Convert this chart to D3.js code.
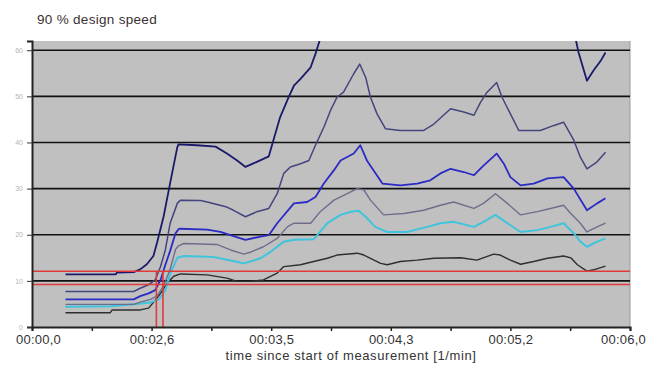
<!DOCTYPE html>
<html>
<head>
<meta charset="utf-8">
<script src="https://cdn.jsdelivr.net/npm/d3@7"></script>
<style>
  body { margin: 0; background: #fff; }
  text { font-family: "Liberation Sans", Arial, sans-serif; }
</style>
</head>
<body>
<script>
// tick positions (0..10) and their labels
var xTicks = [0, 1, 2, 3, 4, 5, 6, 7, 8, 9, 10];
var xTickLabels = ["00:00,0", "", "00:02,6", "", "00:03,5", "", "00:04,3", "", "00:05,2", "", "00:06,0"];
var yTicks = [0, 10, 20, 30, 40, 50, 60];

// series, [x, value]
var navy = [[0.56,11.4],[1.40,11.4],[1.42,11.8],[1.70,11.9],[1.81,12.5],[1.92,13.6],[2.03,15.4],[2.09,18.2],[2.20,23.9],[2.31,31.2],[2.43,39.0],[2.45,39.6],[2.76,39.4],[3.07,39.1],[3.26,37.6],[3.43,36.1],[3.57,34.7],[3.76,35.8],[3.96,37.0],[4.02,39.7],[4.15,45.5],[4.29,49.8],[4.38,52.3],[4.49,53.8],[4.66,56.3],[4.74,59.2],[4.82,62.5],[4.90,66],[9.05,66],[9.09,62.5],[9.14,59.5],[9.28,53.4],[9.39,55.6],[9.51,57.7],[9.59,59.5]];
var slate = [[0.56,7.7],[1.70,7.7],[1.81,8.4],[1.94,9.1],[2.06,10.2],[2.15,13.1],[2.23,16.7],[2.31,22.5],[2.43,26.8],[2.48,27.5],[2.82,27.4],[2.93,27.1],[3.26,26.0],[3.37,25.3],[3.57,23.9],[3.76,25.0],[3.96,25.7],[4.10,28.9],[4.21,33.3],[4.32,34.7],[4.49,35.4],[4.63,36.1],[4.74,39.4],[4.88,43.3],[4.99,46.9],[5.10,49.8],[5.21,50.9],[5.38,54.9],[5.48,57.0],[5.58,54.1],[5.66,49.8],[5.77,46.2],[5.91,43.0],[6.16,42.6],[6.55,42.6],[6.72,44.0],[7.00,47.3],[7.22,46.6],[7.39,45.9],[7.50,48.7],[7.61,50.9],[7.77,53.0],[7.86,49.8],[8.00,46.2],[8.14,42.6],[8.50,42.6],[8.73,43.7],[8.89,44.4],[9.06,40.5],[9.17,36.8],[9.28,34.3],[9.45,35.8],[9.59,37.9]];
var blue = [[0.56,6.0],[1.70,6.0],[1.81,6.7],[1.95,7.3],[2.06,8.0],[2.15,10.2],[2.23,13.5],[2.31,16.5],[2.40,20.3],[2.45,21.2],[2.48,21.3],[2.93,21.1],[3.15,20.6],[3.37,19.7],[3.57,18.9],[3.82,19.6],[3.96,19.9],[4.10,22.5],[4.38,26.8],[4.60,27.1],[4.74,28.2],[4.88,31.1],[5.05,34.0],[5.16,36.1],[5.38,37.6],[5.49,39.4],[5.60,36.1],[5.71,34.0],[5.86,31.1],[6.16,30.7],[6.44,31.1],[6.66,31.8],[6.83,33.3],[7.00,34.3],[7.22,33.6],[7.39,32.9],[7.55,35.0],[7.77,37.6],[7.89,35.4],[8.00,32.5],[8.17,30.7],[8.39,31.1],[8.62,32.2],[8.89,32.5],[9.06,30.0],[9.28,25.3],[9.45,26.8],[9.59,27.9]];
var grayp = [[0.56,4.9],[1.70,4.9],[1.81,5.4],[1.98,6.0],[2.09,6.7],[2.20,8.9],[2.31,12.5],[2.40,16.8],[2.45,17.6],[2.54,18.1],[3.09,17.9],[3.32,16.7],[3.54,15.8],[3.65,16.2],[3.87,17.4],[4.10,19.2],[4.27,21.7],[4.38,22.5],[4.66,22.5],[4.82,25.0],[5.05,27.5],[5.27,28.9],[5.44,30.0],[5.55,29.7],[5.66,27.5],[5.88,24.3],[6.22,24.6],[6.55,25.3],[6.83,26.4],[7.05,27.1],[7.39,25.7],[7.55,26.8],[7.75,28.9],[7.95,26.8],[8.17,24.3],[8.45,25.0],[8.67,25.7],[8.89,26.4],[9.01,24.6],[9.17,22.5],[9.28,20.6],[9.45,21.7],[9.59,22.5]];
var cyan = [[0.56,4.4],[1.31,4.5],[1.75,5.0],[1.98,5.3],[2.12,6.0],[2.23,8.0],[2.31,11.5],[2.43,15.0],[2.54,15.4],[3.03,15.2],[3.32,14.4],[3.54,13.8],[3.65,14.2],[3.82,14.9],[3.99,16.3],[4.21,18.5],[4.38,18.9],[4.71,19.0],[4.94,22.5],[5.16,24.3],[5.33,25.0],[5.46,25.2],[5.58,23.9],[5.74,21.7],[5.94,20.6],[6.27,20.6],[6.61,21.7],[6.83,22.5],[7.05,22.8],[7.39,21.7],[7.55,22.8],[7.75,24.3],[7.95,22.5],[8.17,20.6],[8.45,21.0],[8.67,21.7],[8.89,22.5],[9.06,20.3],[9.17,18.5],[9.28,17.4],[9.45,18.5],[9.59,19.2]];
var dark = [[0.56,3.1],[1.31,3.1],[1.34,3.7],[1.81,3.7],[1.95,4.1],[2.06,5.8],[2.15,7.3],[2.26,9.5],[2.37,11.0],[2.48,11.5],[2.93,11.3],[3.26,10.6],[3.43,9.9],[3.65,9.9],[3.87,10.2],[4.10,11.7],[4.21,13.1],[4.49,13.5],[4.71,14.2],[4.94,14.9],[5.10,15.6],[5.44,16.0],[5.55,15.6],[5.66,14.9],[5.83,13.8],[5.94,13.5],[6.16,14.2],[6.44,14.5],[6.72,14.9],[7.17,15.0],[7.44,14.5],[7.72,15.8],[7.83,15.6],[8.00,14.5],[8.17,13.6],[8.39,14.2],[8.62,14.9],[8.89,15.4],[9.01,15.0],[9.12,13.5],[9.28,12.1],[9.39,12.4],[9.59,13.2]];

// red limit lines
var redLevels = [12.1, 9.2];
var redTimes = [2.08, 2.19];

var svgWidth = 661, svgHeight = 365;
var margin = { top: 41, right: 31, bottom: 38, left: 32 };
var width = svgWidth - margin.left - margin.right;
var height = svgHeight - margin.top - margin.bottom;

var svg = d3.select("body").append("svg")
  .attr("width", svgWidth)
  .attr("height", svgHeight);

svg.append("text")
  .attr("x", 37)
  .attr("y", 24)
  .style("font-size", "13.5px")
  .style("letter-spacing", "0.3px")
  .style("fill", "#3a3030")
  .text("90 % design speed");

var chartGroup = svg.append("g").attr("transform", `translate(${margin.left}, ${margin.top})`);

var xScale = d3.scaleLinear().domain([0, 10]).range([0, width]);
var yScale = d3.scaleLinear().domain([0, 62]).range([height, 0]);

chartGroup.append("rect")
  .attr("width", width)
  .attr("height", height)
  .attr("fill", "#c0c0c0");

chartGroup.append("line")
  .attr("x1", width).attr("x2", width)
  .attr("y1", 0).attr("y2", height)
  .attr("stroke", "#9a9a9a");

chartGroup.append("defs").append("clipPath").attr("id", "clip")
  .append("rect").attr("width", width).attr("height", height);

// grid
chartGroup.selectAll(".grid")
  .data(yTicks.filter(d => d > 0))
  .enter().append("line")
  .attr("x1", 0).attr("x2", width)
  .attr("y1", d => yScale(d)).attr("y2", d => yScale(d))
  .attr("stroke", "#111")
  .attr("stroke-width", 1.6);

var line = d3.line().x(d => xScale(d[0])).y(d => yScale(d[1]));

var series = [
  { data: dark, color: "#2e2e2e", w: 1.4 },
  { data: cyan, color: "#3ec4dc", w: 2 },
  { data: grayp, color: "#6e6e8c", w: 1.4 },
  { data: blue, color: "#2a2ac4", w: 1.8 },
  { data: slate, color: "#44447e", w: 1.5 },
  { data: navy, color: "#1a1a6a", w: 1.8 }
];

var lines = chartGroup.append("g").attr("clip-path", "url(#clip)");

lines.selectAll("path")
  .data(series)
  .enter().append("path")
  .attr("d", d => line(d.data))
  .attr("fill", "none")
  .attr("stroke", d => d.color)
  .attr("stroke-width", d => d.w)
  .attr("stroke-linejoin", "round");

// red lines
lines.selectAll(".redh")
  .data(redLevels)
  .enter().append("line")
  .attr("x1", 0).attr("x2", width)
  .attr("y1", d => yScale(d)).attr("y2", d => yScale(d))
  .attr("stroke", "#e03a3a")
  .attr("stroke-width", 1.6);

lines.selectAll(".redv")
  .data(redTimes)
  .enter().append("line")
  .attr("x1", d => xScale(d)).attr("x2", d => xScale(d))
  .attr("y1", yScale(redLevels[0])).attr("y2", height)
  .attr("stroke", "#e03a3a")
  .attr("stroke-width", 1.6);

// axes
var xAxis = d3.axisBottom(xScale)
  .tickValues(xTicks)
  .tickSize(4)
  .tickFormat((d, i) => xTickLabels[i]);

var yAxis = d3.axisLeft(yScale)
  .tickValues(yTicks)
  .tickSize(5)
  .tickFormat(d3.format("d"));

var gx = chartGroup.append("g")
  .attr("transform", `translate(0, ${height})`)
  .call(xAxis);
gx.select(".domain").attr("stroke", "#222").attr("stroke-width", 2);
gx.selectAll(".tick line").attr("stroke", "#222").attr("stroke-width", 1.5);
gx.selectAll(".tick text")
  .attr("y", 8)
  .style("font-size", "13px")
  .style("letter-spacing", "0.2px")
  .attr("fill", "#333")
  .attr("dx", (d, i) => i == 0 ? 6 : (i == 10 ? -7 : 0));

var gy = chartGroup.append("g").call(yAxis);
gy.select(".domain").attr("stroke", "#222").attr("stroke-width", 2);
gy.selectAll(".tick line").attr("stroke", "#333");
gy.selectAll(".tick text")
  .attr("x", -9)
  .style("font-size", "7px")
  .attr("fill", "#b4b4b4");

svg.append("text")
  .attr("x", 351)
  .attr("y", 360)
  .attr("text-anchor", "middle")
  .style("font-size", "13px")
  .style("letter-spacing", "0.6px")
  .style("fill", "#333")
  .text("time since start of measurement [1/min]");
</script>
</body>
</html>
